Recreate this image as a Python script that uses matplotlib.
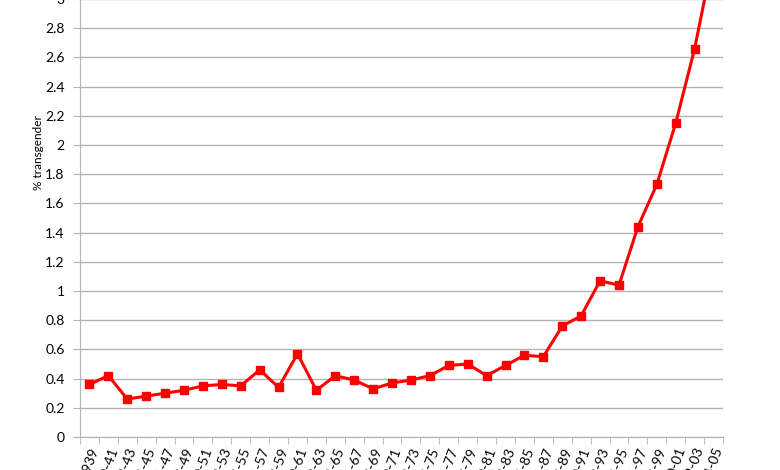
import numpy as np
import matplotlib.pyplot as plt

labels = ["1938-1939"] + ["%d-%02d" % (y, (y + 1) % 100) for y in range(1940, 2005, 2)]
pct = [0.36, 0.42, 0.26, 0.28, 0.30, 0.32, 0.35, 0.36, 0.35, 0.46,
       0.34, 0.57, 0.32, 0.42, 0.39, 0.33, 0.37, 0.39, 0.42, 0.49,
       0.50, 0.42, 0.49, 0.56, 0.55, 0.76, 0.83, 1.07, 1.04, 1.44,
       1.73, 2.15, 2.66, 3.30]

plt.rcParams['font.family'] = ['Lato', 'DejaVu Sans']

fig = plt.figure(figsize=(7.8, 4.7), dpi=100)
ax = fig.add_axes([80/780, 33/470, 643/780, 438/470])

x = np.arange(len(pct))
ax.plot(x, pct, color='#ff0000', linewidth=2.2, marker='s', markersize=6, clip_on=True)

ax.set_xlim(-0.5, len(pct) - 0.5)
ax.set_ylim(0, 3.0)
ax.set_yticks(np.arange(0, 3.01, 0.2))
ax.set_yticklabels(["0" if v == 0 else ("%g" % round(v, 1)) for v in np.arange(0, 3.01, 0.2)], fontsize=10)
ax.yaxis.grid(True, color='#b3b3b3', linewidth=1)
ax.set_axisbelow(True)

ax.set_xticks(x)
ax.set_xticklabels(labels, rotation=70, ha='right', rotation_mode='anchor', fontsize=10)
ax.set_xticks(np.arange(-0.5, len(pct), 1), minor=True)
ax.tick_params(axis='x', which='major', length=0, pad=6)
ax.tick_params(axis='x', which='minor', length=5, color='#b3b3b3')
ax.tick_params(axis='y', length=5, color='#b3b3b3', pad=6)

for s in ['top', 'right']:
    ax.spines[s].set_visible(False)
for s in ['left', 'bottom']:
    ax.spines[s].set_color('#b3b3b3')

ax.set_ylabel('% transgender', fontsize=8.5)
ax.yaxis.set_label_coords(-0.056, 0.65)

fig.savefig('out.png', dpi=100)
